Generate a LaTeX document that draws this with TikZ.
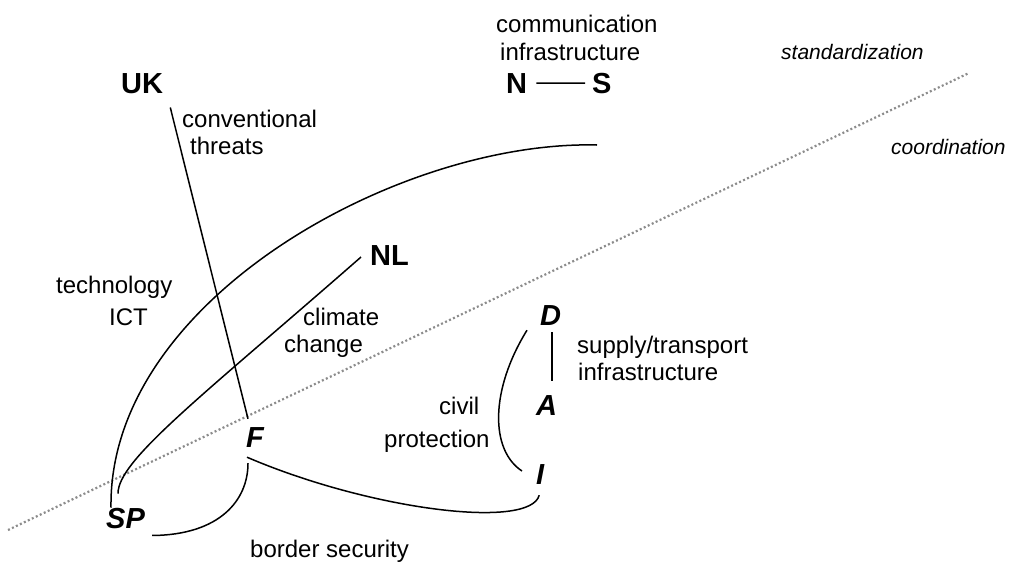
\documentclass[tikz,border=0pt]{standalone}
\usepackage{fontspec}
\setmainfont{Liberation Sans}
\begin{document}
\begin{tikzpicture}[x=1pt,y=-1pt,
  txt/.style={inner sep=0pt,anchor=base west,font=\fontsize{24}{28}\selectfont},
  country/.style={inner sep=0pt,anchor=base west,font=\fontsize{29}{33}\selectfont\bfseries},
  icountry/.style={inner sep=0pt,anchor=base west,font=\fontsize{29}{33}\selectfont\bfseries\itshape},
  axislbl/.style={inner sep=0pt,anchor=base west,font=\fontsize{21}{25}\selectfont\itshape},
  link/.style={line width=1.5pt,black},
  divider/.style={line width=2.2pt,gray!90,dash pattern=on 2pt off 2.4pt}]
\useasboundingbox (0,0) rectangle (1009,563);
% divider line
\coordinate (dotA) at (8,530);
\coordinate (dotB) at (969,73);
\draw[divider] (dotA) -- (dotB);
% axis labels
\node[axislbl] (stdz) at (781,59) {standardization};
\node[axislbl] (coord) at (891,154) {coordination};
% country nodes
\node[country] (UK) at (121,93) {UK};
\node[country] (N) at (506,93) {N};
\node[country] (S) at (592,93) {S};
\node[country] (NL) at (370,265) {NL};
\node[icountry] (F) at (246,447) {F};
\node[icountry] (SP) at (106,528) {SP};
\node[icountry] (D) at (540,325) {D};
\node[icountry] (A) at (536,415) {A};
\node[icountry] (I) at (536,484) {I};
% labels
\node[txt] (comm1) at (496,32) {communication};
\node[txt] (comm2) at (500,60) {infrastructure};
\node[txt] (conv1) at (182,127) {conventional};
\node[txt] (conv2) at (190,154) {threats};
\node[txt] (tech1) at (56,293) {technology};
\node[txt] (tech2) at (109,325) {ICT};
\node[txt] (clim1) at (303,325) {climate};
\node[txt] (clim2) at (284,352) {change};
\node[txt] (civ1) at (439,414) {civil};
\node[txt] (civ2) at (384,447) {protection};
\node[txt] (sup1) at (577,353) {supply/transport};
\node[txt] (sup2) at (578,380) {infrastructure};
\node[txt] (bord) at (250,557) {border security};
% connectors
\coordinate (techend) at (597,145);
\draw[link] ([shift={(9,0)}]N.east) -- ([shift={(-7,0)}]S.west);
\draw[link] ([shift={(7,14)}]UK.south east) -- ([shift={(2,-8)}]F.north west);
\draw[link] ([shift={(-9,2)}]NL.west) .. controls (200,398) and (118,460) .. ([shift={(12,-14)}]SP.north west);
\draw[link] ([shift={(5,0)}]SP.north west) .. controls (108,300) and (400,140) .. (techend);
\draw[link] ([shift={(7,7)}]SP.south east) .. controls (220,535) and (248,500) .. ([shift={(2,16)}]F.south west);
\draw[link] ([shift={(1,10)}]F.south west) .. controls (370,510) and (530,530) .. ([shift={(-1,11)}]I.south);
\draw[link] ([shift={(-13,5)}]D.south west) .. controls (490,390) and (490,450) .. ([shift={(-14,-3)}]I.west);
\draw[link] ([shift={(1.5,7)}]D.south) -- ([shift={(5.5,-14)}]A.north);
\end{tikzpicture}
\end{document}
